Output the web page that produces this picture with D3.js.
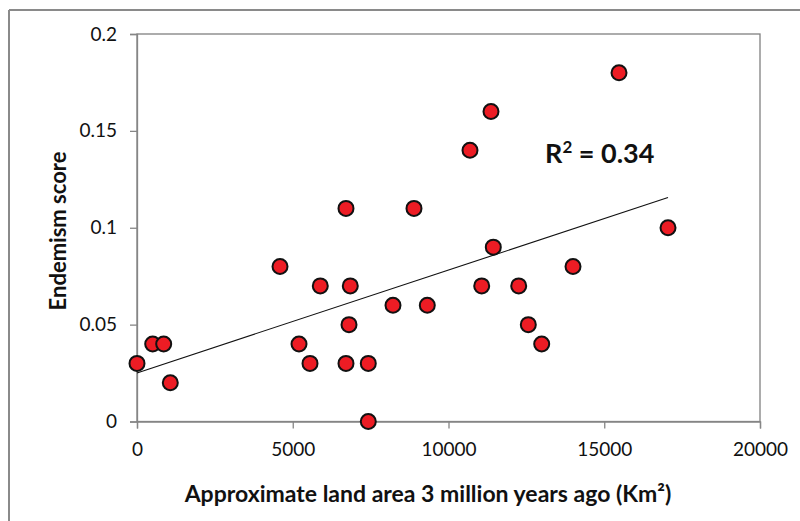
<!DOCTYPE html>
<html>
<head>
<meta charset="utf-8">
<script src="https://cdn.jsdelivr.net/npm/d3@7"></script>
<style>
  body { margin: 0; background: #fff; }
  svg { display: block; font-family: Lato, "Open Sans", sans-serif; }
</style>
</head>
<body>
<script>
// land area 3 million years ago (km2) and endemism score, one entry per island
var landArea = [0, 504, 857, 1069, 4591, 5201, 5554, 5884, 6709, 6709, 6806, 6847, 7425, 7425,
  8218, 8892, 9319, 10690, 11066, 11364, 11438, 12254, 12562, 12992, 13997, 15474, 17047];
var endemism = [0.03, 0.04, 0.04, 0.02, 0.08, 0.04, 0.03, 0.07, 0.11, 0.03, 0.05, 0.07, 0.03, 0,
  0.06, 0.11, 0.06, 0.14, 0.07, 0.16, 0.09, 0.07, 0.05, 0.04, 0.08, 0.18, 0.10];

var xTicks = [0, 5000, 10000, 15000, 20000];
var yTicks = [0, 0.05, 0.1, 0.15, 0.2];
var rSquaredLabel = "0.34";

var width = 800, height = 521;
var margin = {top: 34, right: 40, bottom: 100, left: 137};

var svg = d3.select("body").append("svg")
    .attr("width", width)
    .attr("height", height);

// chart frame (top and left edge only are visible)
svg.append("line")
    .attr("x1", 9).attr("x2", width).attr("y1", 10).attr("y2", 10)
    .style("stroke", "#8a8a8a").style("stroke-width", 2);
svg.append("line")
    .attr("x1", 9).attr("x2", 9).attr("y1", 10).attr("y2", height)
    .style("stroke", "#8a8a8a").style("stroke-width", 2);

var x = d3.scaleLinear().domain([0, 20000]).range([margin.left, width - margin.right]);
var y = d3.scaleLinear().domain([0, 0.2]).range([421.5, margin.top]);

// plot area border
svg.append("rect")
    .attr("x", x(0)).attr("y", y(0.2))
    .attr("width", x(20000) - x(0)).attr("height", y(0) - y(0.2))
    .style("fill", "none").style("stroke", "#808080").style("stroke-width", 1.3);

var xAxis = svg.append("g")
    .attr("transform", "translate(0," + y(0) + ")")
    .call(d3.axisBottom(x).tickValues(xTicks).tickSize(7).tickPadding(14).tickFormat(d3.format("d")));
var yAxis = svg.append("g")
    .attr("transform", "translate(" + x(0) + ",0)")
    .call(d3.axisLeft(y).tickValues(yTicks).tickSize(7).tickPadding(13).tickFormat(function(d) { return String(d); }));

[xAxis, yAxis].forEach(function(a) {
  a.select(".domain").style("stroke", "#868686").style("stroke-width", 1.3);
  a.selectAll(".tick line").style("stroke", "#868686").style("stroke-width", 1.3);
  a.selectAll(".tick text").style("font-family", "Lato, sans-serif")
    .style("font-size", "19px").style("fill", "#111");
});

// least squares trend line
var n = landArea.length;
var mx = d3.mean(landArea), my = d3.mean(endemism);
var sxy = 0, sxx = 0;
for (var i = 0; i < n; i++) {
  sxy += (landArea[i] - mx) * (endemism[i] - my);
  sxx += (landArea[i] - mx) * (landArea[i] - mx);
}
var slope = sxy / sxx, intercept = my - slope * mx;
var xmin = d3.min(landArea), xmax = d3.max(landArea);

svg.append("line")
    .attr("x1", x(xmin)).attr("y1", y(intercept + slope * xmin))
    .attr("x2", x(xmax)).attr("y2", y(intercept + slope * xmax))
    .style("stroke", "#111").style("stroke-width", 1.1);

svg.append("g").selectAll("circle")
  .data(d3.range(n))
  .enter()
  .append("circle")
    .attr("cx", function(i) { return x(landArea[i]); })
    .attr("cy", function(i) { return y(endemism[i]); })
    .attr("r", 7.5)
    .style("fill", "#ed1c24")
    .style("stroke", "#111")
    .style("stroke-width", 2);

// R squared label
var r2 = svg.append("text")
    .attr("x", 545).attr("y", 163)
    .style("font-size", "27px").style("font-weight", "bold").style("fill", "#111");
r2.append("tspan").text("R");
r2.append("tspan").attr("dy", -10).style("font-size", "17px").text("2");
r2.append("tspan").attr("dy", 10).text(" = " + rSquaredLabel);

// axis titles
svg.append("text")
    .attr("x", 428).attr("y", 502)
    .attr("text-anchor", "middle")
    .style("font-size", "23px").style("font-weight", "bold").style("fill", "#111")
    .text("Approximate land area 3 million years ago (Km²)");

svg.append("text")
    .attr("transform", "translate(66,231) rotate(-90)")
    .attr("text-anchor", "middle")
    .style("font-size", "22px").style("font-weight", "bold").style("fill", "#111")
    .text("Endemism score");
</script>
</body>
</html>
